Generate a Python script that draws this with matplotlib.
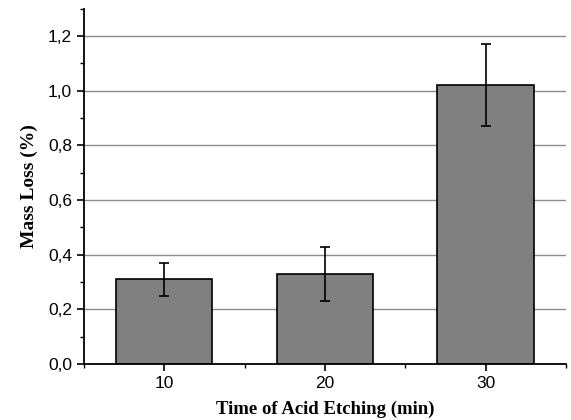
import numpy as np
import matplotlib.pyplot as plt
from matplotlib.ticker import MultipleLocator, FuncFormatter

# dados
tempos = [10, 20, 30]
perda_massa = [0.31, 0.33, 1.02]
erro = [0.06, 0.10, 0.15]

fig = plt.figure(figsize=(5.71, 4.2), dpi=100)
ax = fig.add_axes([0.147, 0.133, 0.844, 0.846])

ax.yaxis.grid(True, color='#8c8c8c', linewidth=1.0, zorder=0)
ax.set_axisbelow(True)

ax.bar(tempos, perda_massa, width=6, color='#808080', edgecolor='black',
       linewidth=1.2, zorder=2)
ax.errorbar(tempos, perda_massa, yerr=erro, fmt='none', ecolor='black',
            elinewidth=1.2, capsize=3.5, capthick=1.2, zorder=3)

ax.set_xlim(5, 35)
ax.set_ylim(0, 1.3)
ax.set_xticks(tempos)
ax.xaxis.set_minor_locator(MultipleLocator(5))
ax.yaxis.set_major_locator(MultipleLocator(0.2))
ax.yaxis.set_minor_locator(MultipleLocator(0.1))
ax.yaxis.set_major_formatter(FuncFormatter(lambda v, p: f'{v:.1f}'.replace('.', ',')))

for lado in ['top', 'right']:
    ax.spines[lado].set_visible(False)
ax.spines['left'].set_linewidth(1.3)
ax.spines['bottom'].set_linewidth(1.3)

ax.tick_params(which='major', direction='out', length=5, width=1.2,
               labelsize=12.5)
ax.tick_params(which='minor', direction='out', length=3, width=1.0)
for lbl in ax.get_xticklabels() + ax.get_yticklabels():
    lbl.set_family('Liberation Sans')

ax.set_xlabel('Time of Acid Etching (min)', family='Liberation Serif',
              fontweight='bold', fontsize=13.5, labelpad=7)
ax.set_ylabel('Mass Loss (%)', family='Liberation Serif',
              fontweight='bold', fontsize=14, labelpad=7)

fig.savefig('out.png', dpi=100, facecolor='white')
